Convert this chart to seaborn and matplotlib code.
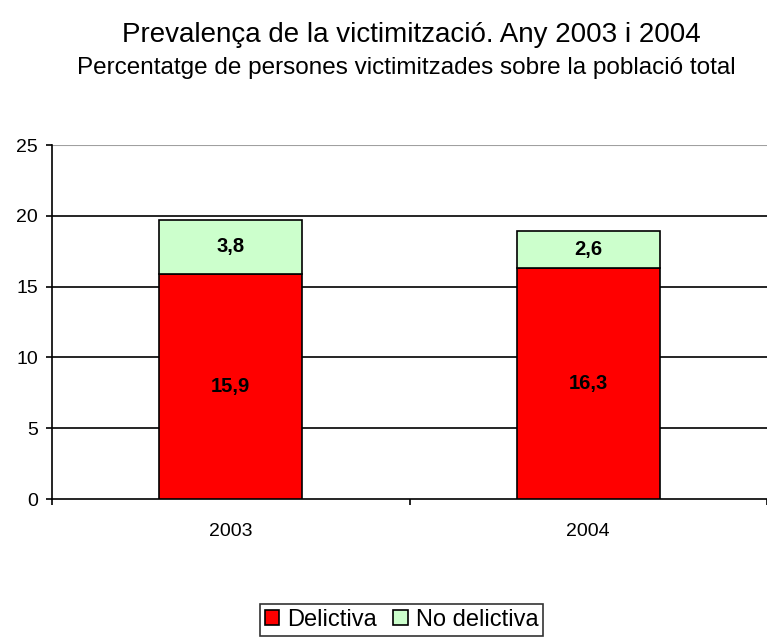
import pandas as pd
import matplotlib.pyplot as plt
import seaborn as sns

years = ['2003', '2004']
delictiva = [15.9, 16.3]
no_delictiva = [3.8, 2.6]

df = pd.DataFrame({'Any': years, 'Delictiva': delictiva, 'No delictiva': no_delictiva})

sns.set_style("white")
plt.rcParams['font.family'] = ['Liberation Sans', 'DejaVu Sans']
plt.rcParams['text.color'] = 'black'
plt.rcParams['xtick.color'] = 'black'
plt.rcParams['ytick.color'] = 'black'

fig = plt.figure(figsize=(7.67, 6.4), dpi=100)
ax = fig.add_axes([0.0678, 0.2203, 0.9322, 0.5531])

sns.barplot(x='Any', y='Delictiva', data=df, color='#FF0000', width=0.4, saturation=1,
            edgecolor='black', linewidth=1.2, ax=ax, label='Delictiva', zorder=3)
sns.barplot(x='Any', y='No delictiva', data=df, bottom=df['Delictiva'], color='#CCFFCC',
            width=0.4, saturation=1, edgecolor='black', linewidth=1.2, ax=ax,
            label='No delictiva', zorder=3)

# labels inside the segments
for i in range(len(years)):
    ax.text(i, delictiva[i] / 2, f'{delictiva[i]:.1f}'.replace('.', ','),
            ha='center', va='center', fontsize=14.5, fontweight='bold', zorder=4)
    ax.text(i, delictiva[i] + no_delictiva[i] / 2, f'{no_delictiva[i]:.1f}'.replace('.', ','),
            ha='center', va='center', fontsize=14.5, fontweight='bold', zorder=4)

ax.set_xlim(-0.5, 1.5)
ax.set_ylim(0, 25)
ax.set_yticks(range(0, 26, 5))
for y in range(5, 21, 5):
    ax.axhline(y, color='black', linewidth=1.2, zorder=1)
ax.axhline(25, color='#A0A0A0', linewidth=1.5, zorder=1)

for s in ['top', 'right']:
    ax.spines[s].set_visible(False)
ax.spines['left'].set_color('black')
ax.spines['bottom'].set_color('black')
ax.spines['left'].set_linewidth(1.2)
ax.spines['bottom'].set_linewidth(1.2)

ax.set_xticks([-0.5, 0.5, 1.5], minor=True)
ax.tick_params(axis='x', which='major', length=0, labelsize=14, pad=17)
ax.tick_params(axis='x', which='minor', bottom=True, length=4, width=1.2, color='black', direction='out')
ax.tick_params(axis='y', length=4, width=1.2, color='black', direction='out', labelsize=14, left=True, pad=6)
ax.set_xlabel('')
ax.set_ylabel('')

fig.text(0.5365, 0.946, 'Prevalença de la victimització. Any 2003 i 2004',
         ha='center', va='center', fontsize=20)
fig.text(0.53, 0.893, 'Percentatge de persones victimitzades sobre la població total',
         ha='center', va='center', fontsize=17.5)

handles, labels = ax.get_legend_handles_labels()
ax.get_legend().remove()
fig.legend(handles, labels, loc='center', bbox_to_anchor=(0.5235, 0.031), ncol=2,
           frameon=True, fancybox=False, edgecolor='black', fontsize=17,
           handlelength=0.6, handleheight=0.6, handletextpad=0.35, columnspacing=0.7,
           borderpad=0.2, borderaxespad=0)
fig.legends[0].get_frame().set_linewidth(1.2)

plt.savefig('out.png', dpi=100)
